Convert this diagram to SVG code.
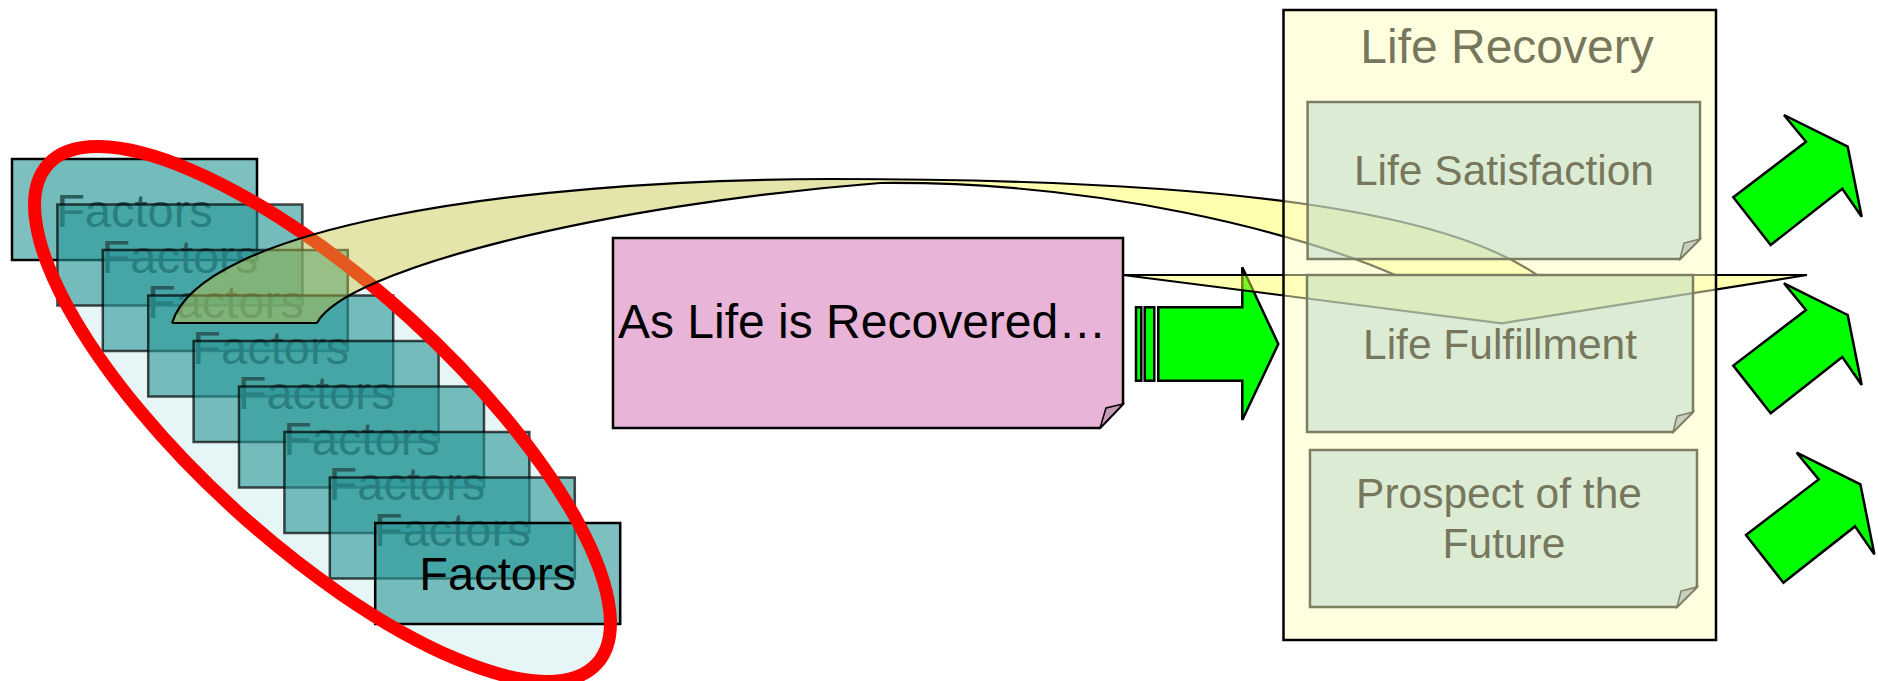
<svg xmlns="http://www.w3.org/2000/svg" width="1878" height="681" viewBox="0 0 1878 681">
<style>
  text { font-family: "Liberation Sans", Arial, sans-serif; }
  .fbox { fill: #289696; fill-opacity: 0.6; stroke: #000; stroke-width: 2.5; }
  .fbox.mid { stroke-opacity: 0.7; }
  .ftxt { font-size: 47px; text-anchor: middle; fill: #2c5d5d; }
  .ftxt.last { fill: #000; }
  .green { fill: #00ff00; stroke: #000; stroke-width: 2.5; stroke-linejoin: miter; }
  .inner { fill: #b1d5c5; fill-opacity: 0.45; stroke: #7d7d63; stroke-width: 2.5; }
  .flap { fill: #c8cfc0; stroke: #7d7d63; stroke-width: 1.5; }
  .ltxt { font-size: 42.5px; fill: #77775e; text-anchor: middle; }
  .bandline { fill: none; stroke: #000; stroke-width: 2.2; }
</style>

<!-- ellipse fill (under the factors) -->
<g id="ellipse-fill">
  <ellipse cx="322.5" cy="414" rx="371" ry="129.6" transform="rotate(42.3 322.5 414)" fill="#e6f5f5"/>
</g>

<g id="factors">
  <g id="factor1"><rect class="fbox" x="12" y="159" width="245" height="101"/><text class="ftxt" x="134.5" y="227">Factors</text></g>
  <g id="factor2"><rect class="fbox mid" x="57.4" y="204.5" width="245" height="101"/><text class="ftxt" x="179.9" y="272.5">Factors</text></g>
  <g id="factor3"><rect class="fbox mid" x="102.8" y="250" width="245" height="101"/><text class="ftxt" x="225.3" y="318">Factors</text></g>
  <g id="factor4"><rect class="fbox mid" x="148.2" y="295.5" width="245" height="101"/><text class="ftxt" x="270.7" y="363.5">Factors</text></g>
  <g id="factor5"><rect class="fbox mid" x="193.6" y="341" width="245" height="101"/><text class="ftxt" x="316.1" y="409">Factors</text></g>
  <g id="factor6"><rect class="fbox mid" x="239" y="386.5" width="245" height="101"/><text class="ftxt" x="361.5" y="454.5">Factors</text></g>
  <g id="factor7"><rect class="fbox mid" x="284.4" y="432" width="245" height="101"/><text class="ftxt" x="406.9" y="500">Factors</text></g>
  <g id="factor8"><rect class="fbox mid" x="329.8" y="477.5" width="245" height="101"/><text class="ftxt" x="452.3" y="545.5">Factors</text></g>
  <g id="factor9"><rect class="fbox" x="375.2" y="523" width="245" height="101"/><text class="ftxt last" x="497.7" y="590">Factors</text></g>
</g>

<g id="ellipse">
  <ellipse cx="322.5" cy="414" rx="371" ry="129.6" transform="rotate(42.3 322.5 414)" fill="none" stroke="#ff0000" stroke-width="13"/>
</g>

<g id="connectors">
  <!-- striped block arrow -->
  <g id="block-arrow">
    <rect class="green" x="1136" y="307.3" width="5.3" height="73.4"/>
    <rect class="green" x="1144.7" y="307.3" width="9.6" height="73.4"/>
    <polygon class="green" points="1158.3,307.3 1242.3,307.3 1242.3,267.3 1278.3,344 1242.3,420 1242.3,380.7 1158.3,380.7"/>
  </g>
  <!-- curved ribbon arrow -->
  <g id="curved-arrow">
    <path d="M172,323 C200,230 500,180 830,179 L880,183 C600,205 345,270 317,323 Z" fill="#c6c644" fill-opacity="0.45"/>
    <path d="M830,179 C1250,179 1450,215 1537,275 L1395,275 C1300,233 1100,181 880,183 Z" fill="#ffff4f" fill-opacity="0.45"/>
    <polygon points="1123,275 1807,275 1501.7,323.3" fill="#ffff4f" fill-opacity="0.45"/>
    <path class="bandline" d="M172,323 C200,230 500,180 830,179 C1250,179 1450,215 1537,275"/>
    <path class="bandline" d="M317,323 C345,270 600,205 880,183 C1100,181 1300,233 1395,275"/>
    <path class="bandline" d="M172,323 H317"/>
    <polygon class="bandline" points="1123,275 1807,275 1501.7,323.3"/>
  </g>
</g>

<g id="recovered">
  <path d="M613,238 H1123 V404 L1100,428 H613 Z" fill="#e8b4d8" stroke="#000" stroke-width="2.5"/>
  <path d="M1123,404 L1106,408 L1100,428 Z" fill="#c89ab8" stroke="#000" stroke-width="1.5"/>
  <text x="618" y="338" font-size="48" fill="#000">As Life is Recovered…</text>
</g>

<g id="life-recovery">
  <rect x="1283.5" y="10" width="432.5" height="630" fill="#ffffc1" fill-opacity="0.5" stroke="#000" stroke-width="2.5"/>
  <text x="1507" y="63" font-size="48" fill="#77775e" text-anchor="middle">Life Recovery</text>
</g>

<g id="life-satisfaction">
  <path class="inner" d="M1307.6,102 H1700 V239 L1680,259 H1307.6 Z"/>
  <path class="flap" d="M1700,239 L1684,243 L1680,259 Z"/>
  <text class="ltxt" x="1504" y="185">Life Satisfaction</text>
</g>

<g id="life-fulfillment">
  <path class="inner" d="M1307,275 H1693 V412 L1673,432 H1307 Z"/>
  <path class="flap" d="M1693,412 L1677,416 L1673,432 Z"/>
  <text class="ltxt" x="1500" y="359">Life Fulfillment</text>
</g>

<g id="prospect">
  <path class="inner" d="M1310,450 H1697 V587 L1677,607 H1310 Z"/>
  <path class="flap" d="M1697,587 L1681,591 L1677,607 Z"/>
  <text class="ltxt" x="1499" y="508">Prospect of the</text>
  <text class="ltxt" x="1504" y="558">Future</text>
</g>

<g id="up-arrows">
  <polygon id="up-arrow1" class="green" points="1784,115 1847.7,146.7 1861.7,216.7 1842.3,188.7 1770.7,245 1733.3,197.3 1806,141.7"/>
  <polygon id="up-arrow2" class="green" points="1784,283.3 1847.7,315 1861.7,385 1842.3,357 1770.7,413.3 1733.3,365.6 1806,310"/>
  <polygon id="up-arrow3" class="green" points="1796.7,452.7 1860.4,484.4 1874.4,554.4 1855,526.4 1783.4,582.7 1746,535 1818.7,479.4"/>
</g>
</svg>
